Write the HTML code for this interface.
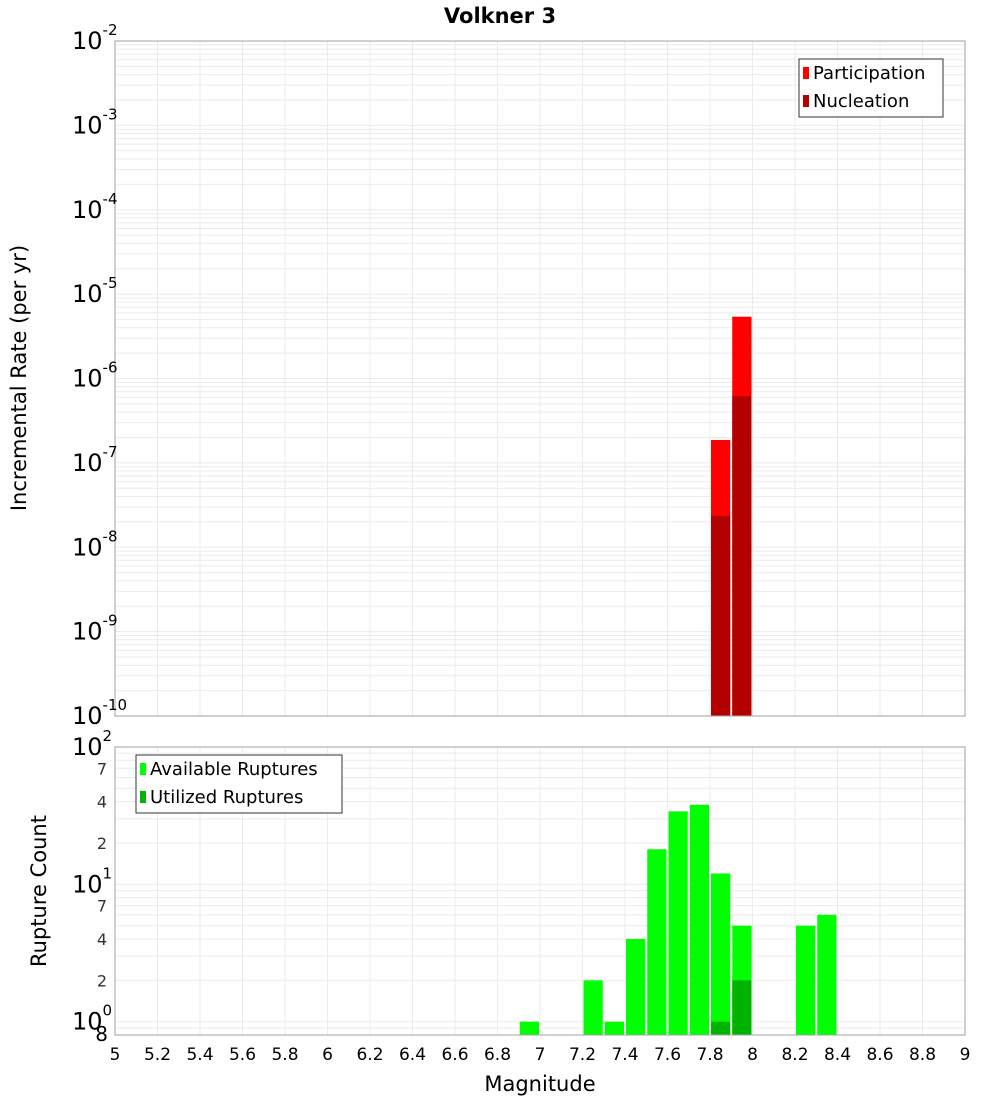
<!DOCTYPE html>
<html><head><meta charset="utf-8"><style>
body{margin:0;background:#fff;}
svg{font-family:"Liberation Sans","DejaVu Sans",sans-serif;}
</style></head><body>
<svg id="c" width="1000" height="1100" viewBox="0 0 1000 1100" xmlns="http://www.w3.org/2000/svg">
<text x="500" y="23" text-anchor="middle" font-size="21" font-weight="bold" font-family="DejaVu Sans, sans-serif">Volkner 3</text>
<g id="gtop"></g><g id="gbot"></g>
<text x="540" y="1091" text-anchor="middle" font-size="21" font-family="DejaVu Sans, sans-serif">Magnitude</text>
<text transform="translate(26,378) rotate(-90)" text-anchor="middle" font-size="21" font-family="DejaVu Sans, sans-serif">Incremental Rate (per yr)</text>
<text transform="translate(46,891) rotate(-90)" text-anchor="middle" font-size="21" font-family="DejaVu Sans, sans-serif">Rupture Count</text>
</svg>
<script>
const binStarts=[7.8,7.9];
const participation=[1.87e-7,5.4e-6];
const nucleation=[2.36e-8,6.2e-7];
const countBins=[6.9,7.2,7.3,7.4,7.5,7.6,7.7,7.8,7.9,8.2,8.3];
const available=[1,2,1,4,18,34,38,12,5,5,6];
const utilBins=[7.8,7.9];
const utilized=[1,2];
const xTicks=[5,5.2,5.4,5.6,5.8,6,6.2,6.4,6.6,6.8,7,7.2,7.4,7.6,7.8,8,8.2,8.4,8.6,8.8,9];
const topExps=[-2,-3,-4,-5,-6,-7,-8,-9,-10];
const botMajor=[0,1,2];
const botMinor=[2,4,7];

const NS="http://www.w3.org/2000/svg";
const X0=115,X1=965;
const sx=m=>X0+(m-5)/4*(X1-X0);
const tT=41,tB=716,sTop=v=>tT+(-2-Math.log10(v))/8*(tB-tT);
const bT=747,bB=1035,lmin=Math.log10(0.8),sBot=v=>bT+(2-Math.log10(v))/(2-lmin)*(bB-bT);
function el(p,tag,a,txt){const e=document.createElementNS(NS,tag);for(const k in a)e.setAttribute(k,a[k]);if(txt!==undefined)e.textContent=txt;p.appendChild(e);return e;}
const svgEl=document.getElementById('c');
const gTop=document.getElementById('gtop'),gBot=document.getElementById('gbot');
function frame(g,y0,y1,name){
  const r=el(g,'rect',{x:X0,y:y0,width:X1-X0,height:y1-y0,fill:'#fff',stroke:'none'});
  
  
  xTicks.forEach(t=>{el(g,'line',{x1:sx(t),x2:sx(t),y1:y0,y2:y1,stroke:'#ebebeb'});});
}
frame(gTop,tT,tB,'top');
for(let e=-10;e<-2;e++)for(let k=1;k<10;k++){const y=sTop(k*Math.pow(10,e));el(gTop,'line',{x1:X0,x2:X1,y1:y,y2:y,stroke:'#ebebeb'});}
frame(gBot,bT,bB,'bottom');
[0.8,0.9].concat([1,2,3,4,5,6,7,8,9].flatMap(k=>[k,k*10])).concat([100]).forEach(v=>{const y=sBot(v);el(gBot,'line',{x1:X0,x2:X1,y1:y,y2:y,stroke:'#ebebeb'});});
binStarts.forEach((b,i)=>{
  const x=sx(b)+1,w=sx(b+0.1)-sx(b)-2;
  let y=sTop(participation[i]);
  const p=el(gTop,'rect',{x:x,y:y,width:w,height:tB-y,fill:'#ff0000'});
  
  
  y=sTop(nucleation[i]);
  const n=el(gTop,'rect',{x:x,y:y,width:w,height:tB-y,fill:'#b30000'});
  
  
});
countBins.forEach((b,i)=>{
  const x=sx(b)+1,w=sx(b+0.1)-sx(b)-2,y=sBot(available[i]);
  const r=el(gBot,'rect',{x:x,y:y,width:w,height:bB-y,fill:'#00ff00'});
  
  
});
utilBins.forEach((b,i)=>{
  const x=sx(b)+1,w=sx(b+0.1)-sx(b)-2,y=sBot(utilized[i]);
  const r=el(gBot,'rect',{x:x,y:y,width:w,height:bB-y,fill:'#00b300'});
  
  
});
el(gTop,'rect',{x:X0,y:tT,width:X1-X0,height:tB-tT,fill:'none',stroke:'#a0a0a0'});
el(gBot,'rect',{x:X0,y:bT,width:X1-X0,height:bB-bT,fill:'none',stroke:'#a0a0a0'});
topExps.forEach(e=>{
  const y=sTop(Math.pow(10,e));
  const t=el(gTop,'text',{x:72,y:y+8,'font-size':24,'font-family':'DejaVu Sans, sans-serif'});
  
  
  el(t,'tspan',{},'10');el(t,'tspan',{dy:-14,'font-size':15},String(e));
});
botMajor.forEach(e=>{
  const y=sBot(Math.pow(10,e));
  const t=el(gBot,'text',{x:72,y:y+8,'font-size':24,'font-family':'DejaVu Sans, sans-serif'});
  
  
  el(t,'tspan',{},'10');el(t,'tspan',{dy:-14,'font-size':15},String(e));
  botMinor.forEach(k=>{if(e<2){const yy=sBot(k*Math.pow(10,e));
    const m=el(gBot,'text',{x:107,y:yy+6,'text-anchor':'end','font-size':16,fill:'#333','font-family':'DejaVu Sans, sans-serif'},String(k));
    
    }});
});
const e8=el(gBot,'text',{x:108,y:sBot(0.8)+6,'text-anchor':'end','font-size':20,'font-family':'DejaVu Sans, sans-serif'},'8');


xTicks.forEach(t=>{
  const l=el(svgEl,'text',{x:sx(t),y:1060,'text-anchor':'middle','font-size':17,'font-family':'DejaVu Sans, sans-serif'},String(t));
  
  
});
function legend(g,x,y,w,items,name){
  const b=el(g,'rect',{x:x,y:y,width:w,height:58,fill:'#fff',stroke:'#333'});
  
  
  items.forEach((it,i)=>{
    const yy=y+14+i*28;
    const s=el(g,'rect',{x:x+4,y:yy-6,width:6,height:12,fill:it[1]});
    
    
    const t=el(g,'text',{x:x+14,y:yy+6,'font-size':18,'font-family':'DejaVu Sans, sans-serif'},it[0]);
    
    
  });
}
legend(gTop,799,59,144,[['Participation','#ff0000'],['Nucleation','#b30000']],'top-legend');
legend(gBot,136,755,206,[['Available Ruptures','#00ff00'],['Utilized Ruptures','#00b300']],'bottom-legend');
</script>
</body></html>
